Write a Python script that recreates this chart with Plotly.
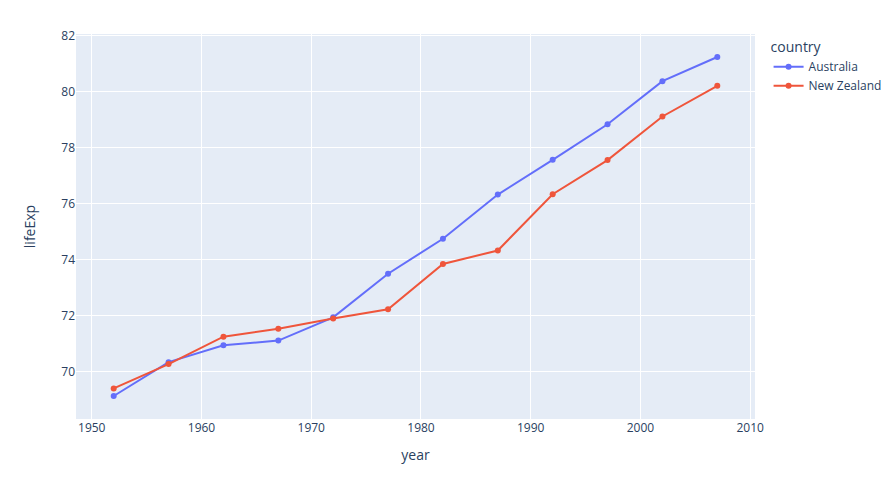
import plotly.graph_objects as go

years = [1952, 1957, 1962, 1967, 1972, 1977, 1982, 1987, 1992, 1997, 2002, 2007]
australia = [69.12, 70.33, 70.93, 71.1, 71.93, 73.49, 74.74, 76.32, 77.56, 78.83, 80.37, 81.235]
new_zealand = [69.39, 70.26, 71.24, 71.52, 71.89, 72.22, 73.84, 74.32, 76.33, 77.55, 79.11, 80.204]

fig = go.Figure()
fig.add_trace(go.Scatter(x=years, y=australia, mode="lines+markers", name="Australia",
                         line=dict(color="#636efa"), legendgroup="Australia"))
fig.add_trace(go.Scatter(x=years, y=new_zealand, mode="lines+markers", name="New Zealand",
                         line=dict(color="#EF553B"), legendgroup="New Zealand"))
fig.update_layout(
    template="plotly",
    width=878, height=470,
    margin=dict(l=68, r=131, t=26, b=59, autoexpand=False),
    xaxis=dict(title=dict(text="year"), automargin=False),
    yaxis=dict(title=dict(text="lifeExp", standoff=22), automargin=False),
    legend=dict(title=dict(text="country"), tracegroupgap=0),
)
fig.write_html("out.html")
